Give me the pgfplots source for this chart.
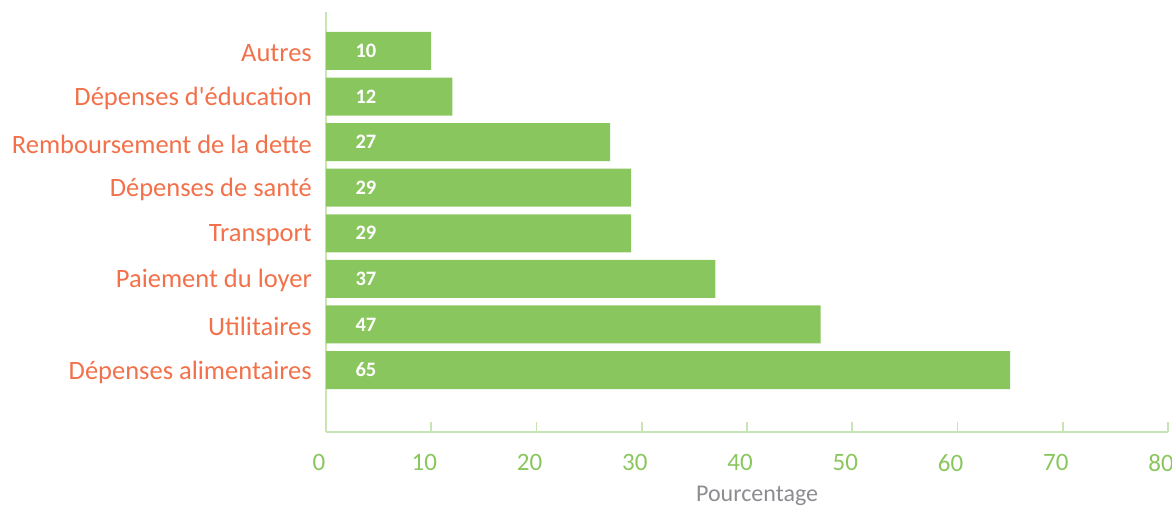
\documentclass[border=0pt]{standalone}
\usepackage{fontspec}
\setmainfont{Carlito}[Ligatures=TeXOff]
\usepackage{pgfplots}
\pgfplotsset{compat=1.18}
\definecolor{bargreen}{HTML}{8AC65E}
\definecolor{labor}{HTML}{F2714A}
\definecolor{axgreen}{HTML}{C8E6B4}
\definecolor{labgray}{HTML}{8C8C91}
\begin{document}
\begin{tikzpicture}
\useasboundingbox (-326pt,-76pt) rectangle (846pt,432pt);
\begin{axis}[
  at={(0,0)}, anchor=south west,
  scale only axis, width=842pt, height=420pt,
  xmin=0, xmax=80, ymin=-1.36, ymax=7.855,
  axis x line*=bottom, axis y line*=left,
  axis line style={axgreen, line width=1.6pt},
  xtick={0,10,...,80},
  xtick align=inside,
  major tick length=10pt,
  xtick style={axgreen, line width=1.6pt},
  ytick={0,...,7},
  yticklabels={Dépenses alimentaires,Utilitaires,Paiement du loyer,Transport,Dépenses de santé,Remboursement de la dette,Dépenses d'éducation,Autres},
  ytick style={draw=none},
  /pgf/number format/assume math mode=true,
  xticklabel style={font=\fontsize{25}{29}\selectfont, text=bargreen, xshift=-7pt, yshift=-19pt},
  yticklabel style={font=\fontsize{26.5}{30}\selectfont, text=labor, anchor=east, inner sep=0pt, xshift=-14pt, yshift=-2pt},
  xlabel={Pourcentage},
  xlabel style={font=\fontsize{24}{28}\selectfont, text=labgray, at={(axis description cs:0.512,0)}, anchor=center, yshift=-64pt},
  clip=false,
]
\addplot[xbar, bar width=38pt, fill=bargreen, draw=none, bar shift=0pt] coordinates {
  (65,0) (47,1) (37,2) (29,3) (29,4) (27,5) (12,6) (10,7)
};
\addplot[draw=none, mark=none, nodes near coords, point meta=explicit symbolic,
  nodes near coords style={anchor=center, text=white, font=\fontsize{20.5}{24}\selectfont\bfseries}]
  table[meta=label] {
x y label
3.8 0 65
3.8 1 47
3.8 2 37
3.8 3 29
3.8 4 29
3.8 5 27
3.8 6 12
3.8 7 10
};
\end{axis}
\end{tikzpicture}
\end{document}
